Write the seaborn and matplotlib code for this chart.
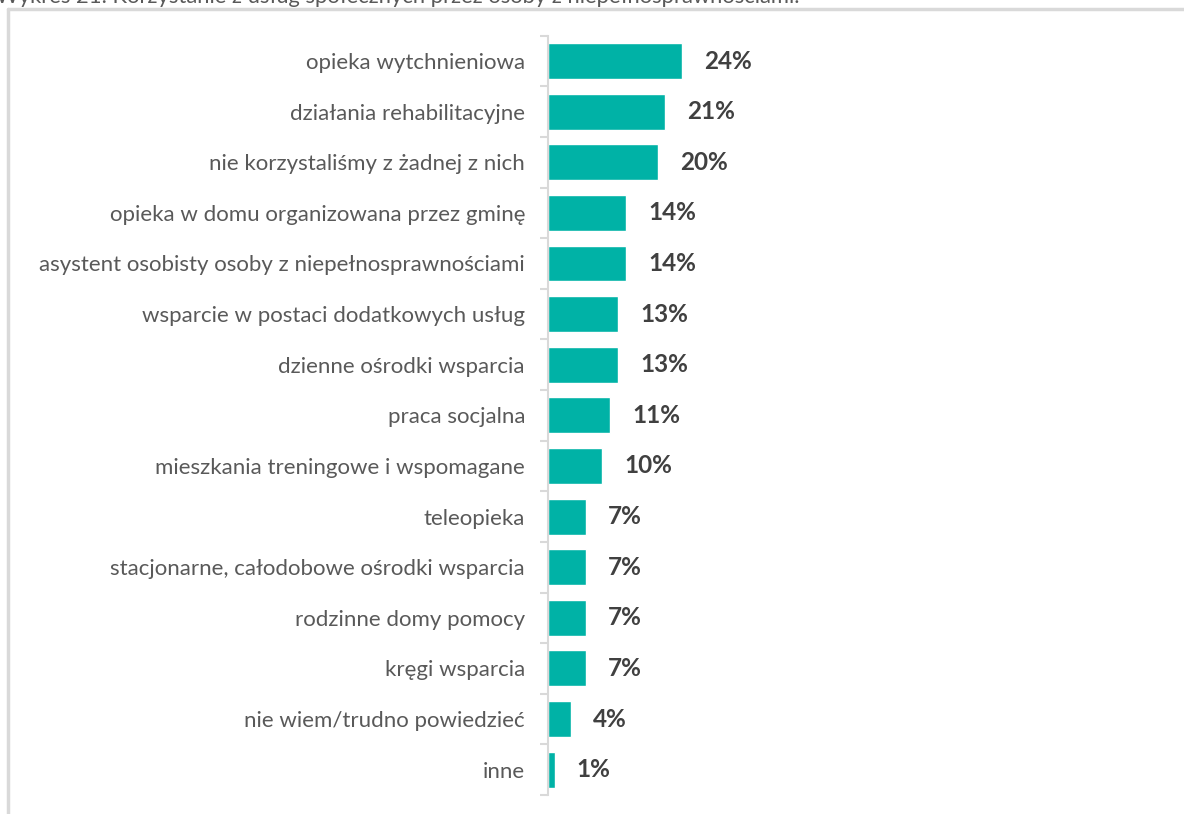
import pandas as pd
import seaborn as sns
import matplotlib.pyplot as plt
from matplotlib.lines import Line2D

title = "Wykres 21. Korzystanie z usług społecznych przez osoby z niepełnosprawnościami."
categories = [
    "opieka wytchnieniowa",
    "działania rehabilitacyjne",
    "nie korzystaliśmy z żadnej z nich",
    "opieka w domu organizowana przez gminę",
    "asystent osobisty osoby z niepełnosprawnościami",
    "wsparcie w postaci dodatkowych usług",
    "dzienne ośrodki wsparcia",
    "praca socjalna",
    "mieszkania treningowe i wspomagane",
    "teleopieka",
    "stacjonarne, całodobowe ośrodki wsparcia",
    "rodzinne domy pomocy",
    "kręgi wsparcia",
    "nie wiem/trudno powiedzieć",
    "inne",
]
values = [24.0, 21.0, 19.7, 14.0, 14.0, 12.6, 12.6, 11.1, 9.7, 6.8, 6.8, 6.8, 6.8, 4.1, 1.2]


def main():
    df = pd.DataFrame({"kategoria": categories, "procent": values})

    sns.set_style("white")
    plt.rcParams['font.family'] = ['Lato', 'DejaVu Sans']

    W, H = 1184, 814
    fig = plt.figure(figsize=(W / 100, H / 100), dpi=100)
    ax = fig.add_axes([548 / W, 1 - 795 / H, (W - 548) / W, (795 - 35.7) / H])

    sns.barplot(data=df, x="procent", y="kategoria", orient="h", color="#00B2A6",
                saturation=1, width=0.71, ax=ax)

    ax.set_xlim(0, 114)
    ax.set_ylim(len(categories) - 0.5, -0.5)
    ax.set_xlabel("")
    ax.set_ylabel("")
    ax.set_xticks([])
    for s in ["top", "right", "bottom"]:
        ax.spines[s].set_visible(False)
    ax.spines["left"].set_color("#d9d9d9")
    ax.spines["left"].set_linewidth(1.5)

    # category boundaries as ticks, labels in between
    ax.set_yticks([i - 0.5 for i in range(len(categories) + 1)], minor=False)
    ax.set_yticklabels([])
    ax.tick_params(axis="y", which="major", length=6, color="#d9d9d9", width=1.5, left=True)
    ax.set_yticks(range(len(categories)), minor=True)
    ax.set_yticklabels(categories, minor=True)
    ax.tick_params(axis="y", which="minor", length=0, pad=23 * 0.72,
                   labelsize=16, labelcolor="#595959")

    for i, v in enumerate(values):
        ax.text(v + 22 / 5.58, i, f"{round(v)}%", va="center", ha="left",
                fontsize=17.5, fontweight="bold", color="#404040")

    fig.text(-4 / W, 1 - 3 / H, title, ha="left", va="baseline", fontsize=15.8, color="#595959")
    fig.add_artist(Line2D([8 / W, 8 / W], [0, 1 - 9 / H], color="#d9d9d9", lw=2.5,
                          transform=fig.transFigure))
    fig.add_artist(Line2D([8 / W, 1], [1 - 9 / H, 1 - 9 / H], color="#d9d9d9", lw=2.5,
                          transform=fig.transFigure))

    fig.savefig("out.png", dpi=100)
    plt.close(fig)


if __name__ == '__main__':
    main()
